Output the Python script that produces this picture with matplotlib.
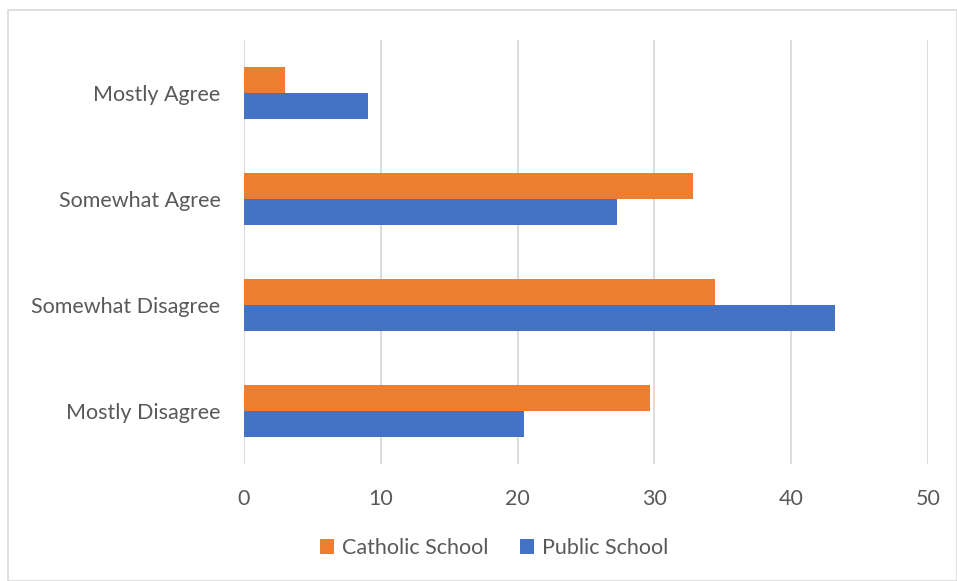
import numpy as np
import matplotlib
matplotlib.use("Agg")
from matplotlib import pyplot as plt
from matplotlib.patches import Rectangle

plt.rcParams['font.family'] = ['Lato', 'DejaVu Sans']

categories = ["Mostly Agree", "Somewhat Agree", "Somewhat Disagree", "Mostly Disagree"]
catholic = [3.0, 32.8, 34.4, 29.7]
public = [9.1, 27.3, 43.2, 20.5]
xticks = [0, 10, 20, 30, 40, 50]

orange = "#ed7d31"
blue = "#4472c4"
txt = "#595959"

fig = plt.figure(figsize=(9.57, 5.81), dpi=100)
fig.patches.append(Rectangle((8 / 957, 0), 1 - 8 / 957, 1 - 10 / 581, transform=fig.transFigure,
                             fill=False, edgecolor="#d9d9d9", linewidth=1.2))
ax = fig.add_axes([244 / 957, 1 - 464 / 581, (928 - 244) / 957, (464 - 40) / 581])

y = np.arange(len(categories))
h = 0.245
ax.barh(y - h / 2, catholic, height=h, color=orange, label="Catholic School", zorder=3)
ax.barh(y + h / 2, public, height=h, color=blue, label="Public School", zorder=3)

ax.set_xlim(0, 50)
ax.set_ylim(len(categories) - 0.5, -0.5)
ax.set_xticks(xticks)
ax.set_yticks(y)
ax.set_yticklabels(categories)
ax.grid(axis="x", color="#d9d9d9", linewidth=1.3, zorder=0)
for s in ax.spines.values():
    s.set_visible(False)
ax.tick_params(axis="both", length=0, labelsize=15.5, labelcolor=txt)
ax.tick_params(axis="x", pad=18)
ax.tick_params(axis="y", pad=17)

fig.legend(loc="center", bbox_to_anchor=(494 / 957, 1 - 548 / 581), ncol=2, frameon=False,
           fontsize=15.5, labelcolor=txt, handlelength=0.65, handleheight=0.65,
           handletextpad=0.35, columnspacing=1.5)

fig.savefig("out.png", dpi=100)
